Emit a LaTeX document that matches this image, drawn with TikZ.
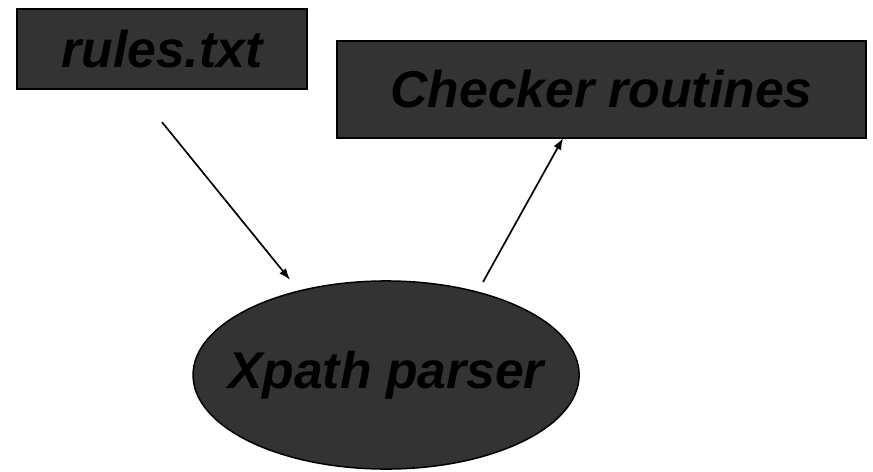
\documentclass[tikz,border=0pt]{standalone}
\usepackage{fontspec}
\setmainfont{Liberation Sans}
\usetikzlibrary{shapes.geometric, arrows.meta}
\begin{document}
\begin{tikzpicture}[
    box/.style={draw, line width=1.4pt, fill=black!80, font=\fontsize{49}{55}\selectfont\bfseries\itshape, inner sep=0pt},
    blob/.style={box, ellipse},
    arr/.style={line width=1.6pt, -{Latex[length=11pt, width=8pt]}},
  ]
    \useasboundingbox (0,0) rectangle (29.1,-15.7);
    % === nodes ===
    \node[box, minimum width=9.67cm, minimum height=2.67cm] (rules) at (5.4, -1.63) {rules.txt};
    \node[box, minimum width=17.63cm, minimum height=3.23cm] (checker) at (20.05, -2.98) {Checker routines};
    \node[blob, minimum width=12.87cm, minimum height=6.27cm] (parser) at (12.87, -12.5) {\makebox[0pt]{Xpath parser}};

    % === arrows ===
    \coordinate (in1) at (5.4, -4.07);
    \coordinate (in2) at (9.67, -9.33);
    \coordinate (out1) at (16.1, -9.4);
    \coordinate (out2) at (18.77, -4.6);
    \draw[arr] (in1) -- (in2);
    \draw[arr] (out1) -- (out2);
  \end{tikzpicture}
\end{document}
